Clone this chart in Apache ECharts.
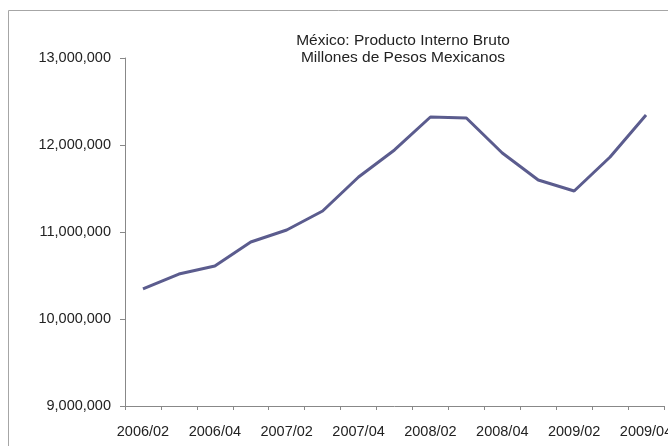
<!DOCTYPE html>
<html>
<head>
<meta charset="utf-8">
<script src="https://cdn.jsdelivr.net/npm/echarts@6/dist/echarts.min.js"></script>
<style>
html,body{margin:0;padding:0;background:#fff;}
#chart{width:668px;height:446px;}
</style>
</head>
<body>
<div id="chart"></div>
<script>
var categories = ['2006/02','2006/03','2006/04','2007/01','2007/02','2007/03','2007/04','2008/01','2008/02','2008/03','2008/04','2009/01','2009/02','2009/03','2009/04'];
var pibValues = [10345000,10517000,10609000,10885000,11023000,11241000,11632000,11943000,12322000,12310000,11908000,11598000,11471000,11862000,12345000];
var yTicks = [9000000,10000000,11000000,12000000,13000000];
var titleLines = ['México: Producto Interno Bruto','Millones de Pesos Mexicanos'];

var chart = echarts.init(document.getElementById('chart'), null, {renderer:'canvas'});
var font = 'Liberation Sans, Arial, sans-serif';
chart.setOption({
  animation:false,
  backgroundColor:'#ffffff',
  graphic:[{type:'rect',silent:true,shape:{x:8.5,y:10.5,width:700,height:500},style:{fill:'none',stroke:'#a6a6a6',lineWidth:1}}],
  title:{
    text:titleLines.join('\n'),
    left:398, top:27, textAlign:'center',
    textStyle:{fontFamily:font,fontSize:15.5,fontWeight:'normal',color:'#222',lineHeight:17}
  },
  grid:{left:125,right:4,top:58,bottom:40,containLabel:false,outerBoundsMode:'none'},
  xAxis:{
    type:'category',
    data:categories,
    boundaryGap:true,
    axisLine:{lineStyle:{color:'#888',width:1}},
    axisTick:{show:true,interval:0,length:4,lineStyle:{color:'#888'}},
    axisLabel:{interval:1,margin:18,fontFamily:font,fontSize:14.5,color:'#222',hideOverlap:false},
    splitLine:{show:false}
  },
  yAxis:{
    type:'value',
    min:yTicks[0], max:yTicks[yTicks.length-1], interval:1000000,
    axisLine:{show:true,lineStyle:{color:'#888',width:1}},
    axisTick:{show:true,length:5,lineStyle:{color:'#888'}},
    axisLabel:{margin:14,fontFamily:font,fontSize:14.5,color:'#222',
      formatter:function(v){return v.toString().replace(/\B(?=(\d{3})+(?!\d))/g, ',');}},
    splitLine:{show:false}
  },
  series:[{
    type:'line',
    data:pibValues,
    symbol:'none',
    lineStyle:{color:'#5b5c8e',width:3},
    itemStyle:{color:'#5b5c8e'}
  }]
});
</script>
</body>
</html>
